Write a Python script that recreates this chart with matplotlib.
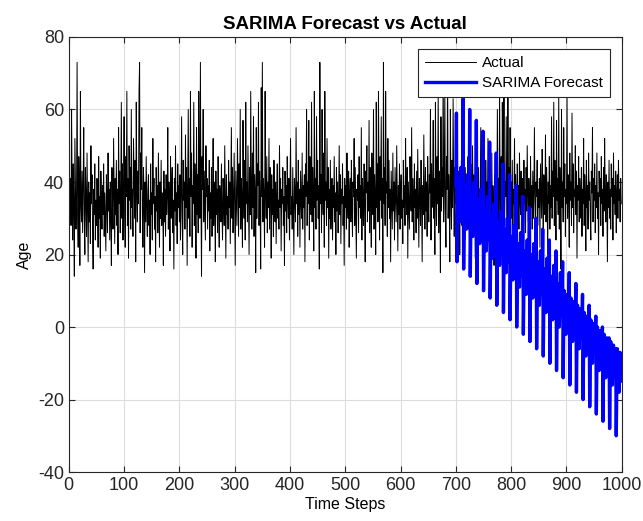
import numpy as np
import matplotlib
matplotlib.use('Agg')
import matplotlib.pyplot as plt

plt.rcParams['font.family'] = ['Liberation Sans', 'DejaVu Sans']
plt.rcParams['axes.unicode_minus'] = False

# observed series (ages), one value per time step 0..999
actual = [
    35, 46, 30, 41, 28, 60, 38, 24, 45, 33, 14, 52, 40, 27, 36, 73, 31, 22, 47, 38, 17, 65, 34, 29, 43,
    26, 39, 55, 31, 20, 44, 36, 25, 48, 33, 18, 40, 29, 37, 23, 50, 34, 42, 27, 16, 38, 31, 45, 24, 35,
    28, 41, 33, 22, 47, 30, 36, 19, 43, 34, 27, 39, 31, 45, 25, 37, 29, 21, 42, 35, 26, 48, 32, 38, 24,
    40, 30, 17, 44, 33, 27, 52, 36, 23, 41, 31, 46, 28, 38, 20, 55, 34, 43, 26, 37, 62, 30, 45, 24, 39,
    58, 32, 22, 47, 36, 65, 28, 41, 19, 50, 35, 44, 27, 60, 33, 38, 25, 52, 40, 30, 46, 18, 62, 37, 29,
    43, 34, 65, 73, 26, 48, 38, 55, 31, 22, 44, 36, 15, 40, 29, 47, 33, 25, 38, 42, 28, 35, 20, 45, 31,
    37, 24, 52, 34, 41, 27, 36, 18, 44, 32, 39, 26, 48, 35, 22, 40, 30, 46, 28, 37, 33, 17, 43, 29, 38,
    25, 42, 31, 36, 55, 27, 40, 34, 21, 47, 30, 38, 44, 26, 35, 16, 41, 32, 50, 28, 37, 23, 45, 33, 39,
    29, 42, 24, 36, 58, 31, 20, 46, 35, 40, 27, 53, 33, 44, 17, 38, 60, 30, 41, 25, 65, 36, 48, 22, 39,
    34, 62, 28, 45, 37, 19, 55, 31, 42, 26, 65, 40, 30, 73, 35, 14, 47, 38, 60, 29, 43, 33, 24, 50, 36,
    41, 27, 39, 32, 46, 21, 37, 30, 44, 25, 35, 52, 28, 40, 34, 18, 43, 31, 38, 26, 47, 33, 22, 39, 36,
    29, 45, 32, 24, 41, 37, 28, 50, 34, 19, 42, 31, 36, 27, 46, 33, 40, 23, 38, 55, 30, 44, 26, 35, 48,
    31, 17, 43, 36, 28, 52, 39, 25, 45, 33, 60, 27, 41, 35, 22, 57, 38, 30, 46, 24, 62, 34, 40, 29, 50,
    36, 20, 44, 31, 65, 38, 27, 48, 33, 58, 25, 42, 37, 15, 55, 30, 45, 39, 62, 28, 43, 34, 16, 66, 36,
    73, 29, 41, 35, 22, 65, 38, 30, 47, 26, 40, 33, 52, 27, 44, 36, 19, 42, 31, 38, 25, 46, 34, 29, 40,
    23, 37, 45, 30, 35, 27, 50, 33, 41, 21, 38, 34, 44, 28, 36, 17, 43, 32, 39, 26, 47, 35, 30, 41, 24,
    38, 52, 31, 36, 27, 44, 33, 20, 41, 37, 29, 55, 34, 40, 25, 46, 31, 38, 22, 43, 35, 30, 48, 27, 39,
    33, 42, 18, 45, 36, 60, 28, 40, 34, 57, 24, 47, 38, 31, 62, 29, 44, 36, 21, 65, 33, 41, 27, 58, 35,
    46, 30, 39, 16, 73, 34, 42, 26, 60, 37, 31, 48, 22, 65, 35, 40, 28, 52, 33, 44, 19, 38, 30, 46, 27,
    36, 41, 24, 39, 33, 47, 29, 37, 20, 44, 32, 40, 26, 35, 50, 31, 42, 23, 38, 34, 45, 28, 36, 17, 41,
    33, 39, 27, 48, 35, 30, 43, 22, 37, 41, 29, 46, 34, 25, 40, 36, 52, 28, 44, 31, 19, 38, 35, 42, 26,
    47, 33, 39, 30, 55, 24, 41, 36, 28, 45, 34, 18, 43, 37, 50, 29, 40, 32, 57, 26, 44, 35, 22, 48, 38,
    31, 60, 27, 42, 36, 20, 62, 33, 45, 29, 65, 38, 24, 47, 35, 58, 30, 41, 15, 73, 34, 44, 28, 65, 37,
    40, 25, 52, 33, 46, 30, 38, 18, 43, 35, 27, 48, 32, 40, 24, 44, 36, 29, 50, 34, 21, 39, 31, 45, 27,
    37, 42, 30, 35, 23, 46, 33, 39, 28, 52, 36, 31, 44, 19, 40, 34, 27, 47, 38, 32, 55, 29, 41, 36, 24,
    45, 33, 38, 26, 43, 30, 49, 35, 22, 41, 37, 28, 46, 34, 18, 39, 31, 53, 36, 27, 44, 32, 40, 25, 47,
    35, 29, 42, 37, 60, 24, 45, 33, 38, 57, 30, 41, 20, 62, 36, 28, 47, 34, 65, 26, 43, 38, 15, 58, 32,
    44, 36, 73, 29, 40, 65, 33, 22, 47, 38, 72, 30, 42, 35, 18, 60, 37, 27, 46, 33, 63, 39, 25, 44, 41,
    34, 48, 30, 37, 26, 43, 35, 20, 41, 33, 46, 28, 38, 52, 31, 36, 24, 44, 37, 29, 40, 34, 47, 27, 39,
    33, 22, 45, 36, 30, 50, 38, 27, 42, 35, 19, 40, 32, 47, 29, 37, 44, 26, 38, 34, 55, 31, 41, 25, 36,
    43, 30, 38, 21, 46, 35, 40, 28, 52, 33, 37, 24, 44, 36, 30, 48, 27, 39, 34, 17, 42, 31, 45, 37, 29,
    60, 35, 41, 26, 65, 38, 30, 47, 22, 62, 34, 43, 73, 28, 40, 36, 58, 31, 19, 70, 37, 44, 27, 55, 35,
    40, 30, 46, 25, 38, 34, 52, 29, 42, 36, 20, 45, 33, 39, 27, 48, 35, 31, 43, 23, 37, 41, 28, 46, 34,
    38, 26, 44, 32, 50, 36, 29, 41, 35, 18, 47, 33, 39, 27, 43, 30, 37, 55, 34, 24, 40, 36, 46, 28, 38,
    33, 41, 22, 45, 37, 30, 49, 35, 26, 42, 38, 31, 53, 29, 44, 36, 20, 40, 34, 47, 27, 39, 33, 58, 30,
    43, 36, 62, 28, 46, 38, 24, 57, 35, 41, 31, 64, 27, 44, 37, 16, 60, 33, 40, 29, 55, 36, 45, 25, 38,
    34, 64, 30, 42, 37, 22, 48, 35, 40, 28, 59, 33, 45, 26, 38, 36, 50, 31, 43, 19, 39, 35, 47, 29, 41,
    37, 30, 44, 25, 38, 34, 52, 28, 42, 36, 21, 46, 33, 39, 27, 48, 35, 40, 31, 24, 43, 37, 55, 29, 41,
    35, 45, 26, 39, 33, 48, 30, 37, 20, 43, 36, 41, 28, 47, 34, 38, 25, 44, 32, 52, 37, 29, 42, 35, 18,
    40, 33, 46, 30, 38, 27, 45, 36, 41, 24, 48, 34, 39, 31, 43, 26, 37, 42, 30, 46, 35, 38, 29, 41, 34,
]

# SARIMA forecast, time steps 700..1000 (seasonal period 12)
forecast_start = 700
forecast = [
    39, 59, 18, 31, 41, 33, 38, 29, 37, 44, 32, 36,
    37, 63, 16, 29, 39, 31, 36, 27, 35, 42, 30, 34,
    35, 60, 14, 27, 37, 29, 34, 25, 33, 40, 28, 32,
    33, 57, 12, 25, 35, 27, 32, 23, 31, 38, 26, 30,
    31, 54, 10, 23, 33, 25, 30, 21, 29, 36, 24, 28,
    29, 51, 8, 21, 31, 23, 28, 19, 27, 34, 22, 26,
    27, 48, 6, 19, 29, 21, 26, 17, 25, 32, 20, 24,
    25, 45, 4, 17, 27, 19, 24, 15, 23, 30, 18, 22,
    23, 42, 2, 15, 25, 17, 22, 13, 21, 28, 16, 20,
    21, 39, 0, 13, 23, 15, 20, 11, 19, 26, 14, 18,
    19, 36, -2, 11, 21, 13, 18, 9, 17, 24, 12, 16,
    18, 33, -4, 10, 20, 12, 17, 8, 16, 23, 11, 15,
    16, 30, -6, 8, 18, 10, 15, 6, 14, 21, 9, 13,
    14, 27, -8, 6, 16, 8, 13, 4, 12, 19, 7, 11,
    12, 24, -10, 4, 14, 6, 11, 2, 10, 17, 5, 9,
    10, 21, -12, 2, 12, 4, 9, 0, 8, 15, 3, 7,
    8, 18, -14, 0, 10, 2, 7, -2, 6, 9, 1, 5,
    6, 15, -16, -2, 8, 0, 5, -4, 4, 7, -1, 3,
    4, 12, -18, -4, 6, -2, 3, -6, 2, 5, -3, 1,
    2, 9, -20, -6, 4, -4, 1, -8, 0, 3, -5, -1,
    0, 6, -22, -8, 2, -6, -1, -10, -2, 1, -7, -3,
    -2, 3, -24, -10, 0, -8, -3, -12, -4, -1, -9, -5,
    -4, 0, -26, -12, -2, -10, -5, -14, -6, -3, -11, -7,
    -6, -3, -28, -14, -4, -12, -7, -16, -8, -5, -13, -9,
    -8, -6, -30, -16, -6, -14, -9, -18, -10, -7, -15, -11,
    -10,
]

t_actual = np.arange(len(actual))
t_forecast = np.arange(forecast_start, forecast_start + len(forecast))

fig = plt.figure(figsize=(6.43, 5.21), dpi=100)
ax = fig.add_axes([0.107, 0.094, 0.860, 0.835])

ax.plot(t_actual, actual, color='black', lw=0.7, label='Actual')
ax.plot(t_forecast, forecast, color='#0000ff', lw=2.4, label='SARIMA Forecast')

ax.set_xlim(0, 1000)
ax.set_ylim(-40, 80)
ax.set_xticks(np.arange(0, 1001, 100))
ax.set_yticks(np.arange(-40, 81, 20))
ax.grid(True, color='#dcdcdc', lw=0.8)
ax.set_axisbelow(True)
ax.tick_params(direction='in', top=True, right=True, length=4, labelsize=13,
               color='#262626', labelcolor='#262626')
for s in ax.spines.values():
    s.set_color('#262626')
    s.set_linewidth(0.8)

ax.set_title('SARIMA Forecast vs Actual', fontsize=13.5, fontweight='bold', pad=6)
ax.set_xlabel('Time Steps', fontsize=11.5, labelpad=2)
ax.set_ylabel('Age', fontsize=11.5, labelpad=4)

leg = ax.legend(loc='upper right', fontsize=11, fancybox=False, framealpha=1,
                edgecolor='#262626', handlelength=3.3, borderaxespad=0.8,
                borderpad=0.45, labelspacing=0.4, handletextpad=0.4)
leg.get_frame().set_linewidth(0.8)

fig.savefig('out.png', dpi=100)
